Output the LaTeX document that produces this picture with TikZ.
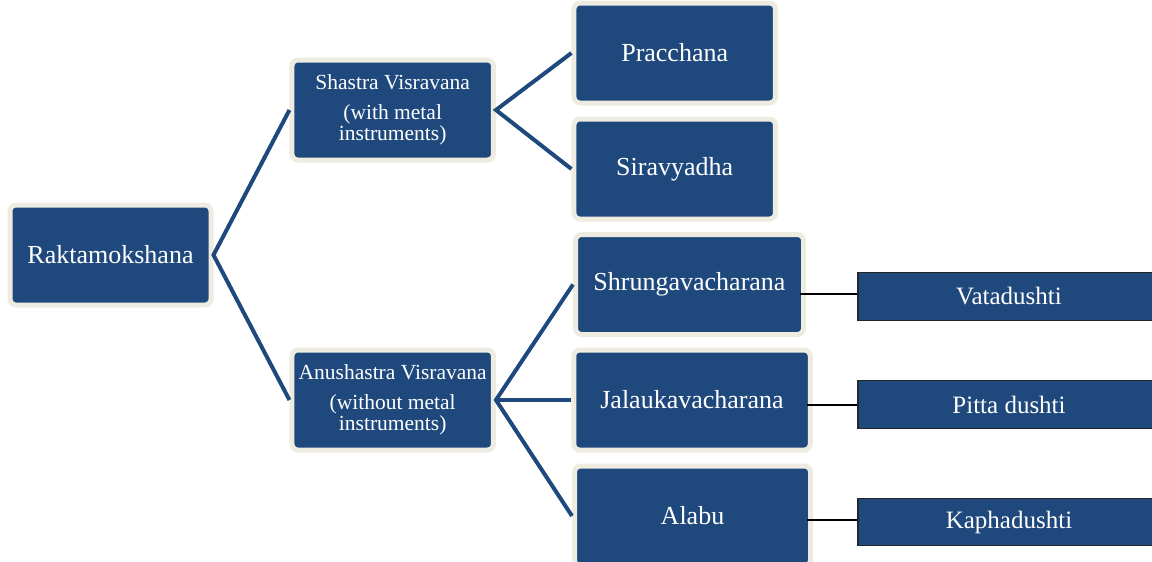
\documentclass[tikz,border=0pt]{standalone}
\usepackage{fontspec}
\setmainfont{Liberation Serif}
\definecolor{boxblue}{HTML}{1F497D}
\definecolor{boxrim}{HTML}{EEECE1}
\tikzset{
  rimbox/.style={draw=boxrim, line width=5pt, fill=boxblue, rounded corners=6pt,
    text=white, align=center, inner sep=0pt, minimum height=100pt},
  bigtext/.style={font=\fontsize{26}{30}\selectfont},
  smalltext/.style={font=\fontsize{21.5}{21}\selectfont},
  flatbox/.style={draw=black!85, line width=1.2pt, fill=boxblue, text=white,
    inner sep=0pt, minimum width=302pt, minimum height=47.5pt,
    font=\fontsize{25}{30}\selectfont},
  branch/.style={draw=boxblue, line width=4pt},
  tick/.style={draw=black, line width=2pt},
}
\begin{document}
\begin{tikzpicture}[x=1pt, y=-1pt]
  %%%%% START %%%%%
  \useasboundingbox (0,0) rectangle (1152,562);
  \clip (0,0) rectangle (1152,562);

  % root and the two kinds
  \node[rimbox, bigtext, minimum width=201pt] (rakta) at (110.5,255) {Raktamokshana};
  \node[rimbox, smalltext, minimum width=201.5pt] (shastra) at (392.7,110)
    {Shastra Visravana\\[9pt](with metal\\instruments)};
  \node[rimbox, smalltext, minimum width=201.5pt] (anushastra) at (392.7,400)
    {Anushastra Visravana\\[9pt](without metal\\instruments)};

  % methods
  \node[rimbox, bigtext, minimum width=201.5pt] (pracchana) at (674.7,53) {Pracchana};
  \node[rimbox, bigtext, minimum width=201.5pt] (siravyadha) at (674.7,169) {Siravyadha};
  \node[rimbox, bigtext, minimum width=228pt] (shrunga) at (689.5,284.5) {Shrungavacharana};
  \node[rimbox, bigtext, minimum width=236.5pt] (jalauka) at (692,400) {Jalaukavacharana};
  \node[rimbox, bigtext, minimum width=236pt] (alabu) at (692.5,516) {Alabu};

  % dosha boxes
  \node[flatbox] (vata) at (1009,296.5) {Vatadushti};
  \node[flatbox] (pitta) at (1009,404.5) {Pitta dushti};
  \node[flatbox] (kapha) at (1009,522) {Kaphadushti};

  % connectors
  \draw[branch] (shastra.west) -- (rakta.east) -- (anushastra.west);
  \draw[branch] (pracchana.west) -- (shastra.east) -- (siravyadha.west);
  \draw[branch] (shrunga.west) -- (anushastra.east) -- (alabu.west);
  \draw[branch] (anushastra.east) -- (jalauka.west);

  \draw[tick] ([yshift=3pt]vata.west) -- ([xshift=-6pt,yshift=3pt]vata.west -| shrunga.east);
  \draw[tick] (pitta.west) -- ([xshift=-6pt]pitta.west -| jalauka.east);
  \draw[tick] ([yshift=2pt]kapha.west) -- ([xshift=-6pt,yshift=2pt]kapha.west -| alabu.east);

  %%%%% END %%%%%
\end{tikzpicture}
\end{document}
